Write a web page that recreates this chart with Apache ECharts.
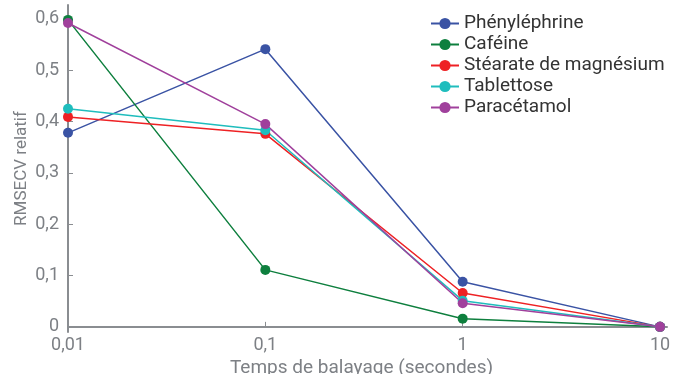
<!DOCTYPE html>
<html><head><meta charset="utf-8">
<script src="https://cdn.jsdelivr.net/npm/echarts@6/dist/echarts.min.js"></script>
<style>html,body{margin:0;padding:0;background:#fff}#c{width:697px;height:374px}</style>
</head><body><div id="c"></div>
<script>
const times = [0.01, 0.1, 1, 10];
const seriesNames = ['Phényléphrine', 'Caféine', 'Stéarate de magnésium', 'Tablettose', 'Paracétamol'];
const phenylephrine = [0.378, 0.541, 0.088, 0];
const cafeine = [0.598, 0.111, 0.016, 0];
const stearate = [0.409, 0.376, 0.066, 0];
const tablettose = [0.425, 0.383, 0.051, 0];
const paracetamol = [0.592, 0.395, 0.046, 0];
const yTicks = [0, 0.1, 0.2, 0.3, 0.4, 0.5, 0.6];
const xTicks = [0.01, 0.1, 1, 10];
const colors = ['#3a53a4', '#0e7f3e', '#ee2124', '#1fbdbd', '#a0409c'];
const allValues = [phenylephrine, cafeine, stearate, tablettose, paracetamol];

const axisGray = '#8a8d91';
const textGray = '#7d8085';
const chart = echarts.init(document.getElementById('c'));
chart.setOption({
  animation: false,
  textStyle: { fontFamily: 'Roboto' },
  color: colors,
  grid: { left: 68, right: 30, top: 5, bottom: 42, containLabel: false, outerBoundsMode: 'none' },
  legend: {
    orient: 'vertical', left: 425, top: 9, itemGap: 2, itemWidth: 28, itemHeight: 14,
    textStyle: { fontSize: 19, color: '#333', fontFamily: 'Roboto' },
    data: seriesNames
  },
  xAxis: {
    type: 'log', logBase: 10, min: 0.01, max: 10.85,
    name: 'Temps de balayage (secondes)', nameLocation: 'middle', nameGap: 25,
    nameTextStyle: { fontSize: 19, color: textGray, verticalAlign: 'top', padding: [0, 12, 0, 0] },
    axisLine: { lineStyle: { color: axisGray, width: 2 } },
    axisTick: { inside: true, length: 5, lineStyle: { color: axisGray }, customValues: xTicks },
    axisLabel: { fontSize: 18, color: textGray, margin: 4, customValues: xTicks,
      formatter: v => String(v).replace('.', ',') },
    splitLine: { show: false }, minorTick: { show: false }
  },
  yAxis: {
    type: 'value', min: -0.01, max: 0.627,
    name: 'RMSECV relatif', nameLocation: 'middle', nameGap: 38, nameMoveOverlap: false,
    nameTextStyle: { fontSize: 17, color: textGray },
    axisLine: { show: true, lineStyle: { color: axisGray, width: 2 } },
    axisTick: { show: true, inside: true, length: 5, lineStyle: { color: axisGray }, customValues: yTicks },
    axisLabel: { fontSize: 18, color: textGray, margin: 9, customValues: yTicks,
      formatter: v => String(Math.round(v * 10) / 10).replace('.', ',') },
    splitLine: { show: false }
  },
  series: seriesNames.map((n, i) => ({
    name: n, type: 'line', symbol: 'circle', symbolSize: 10,
    lineStyle: { width: 1.5 },
    data: times.map((t, j) => [t, allValues[i][j]])
  }))
});
</script></body></html>
